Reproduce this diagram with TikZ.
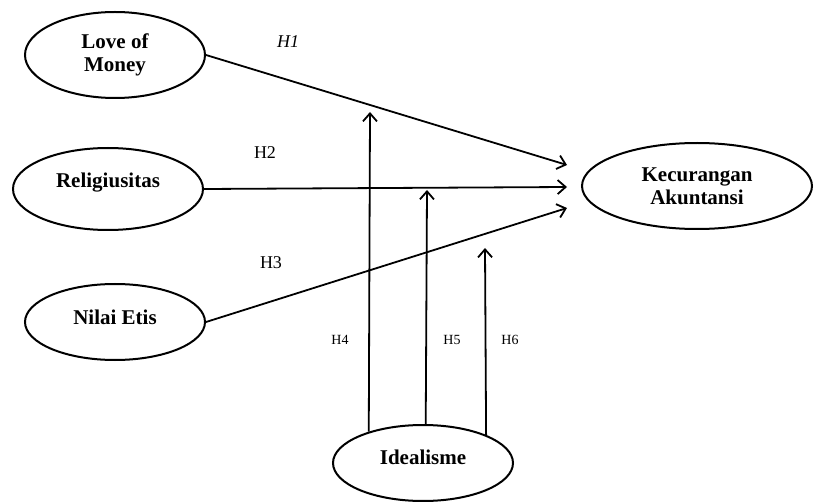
\documentclass[tikz,border=0pt]{standalone}
\usepackage{fontspec}
\setmainfont{Liberation Serif}
\usetikzlibrary{arrows.meta,shapes.geometric,calc}

\begin{document}
\begin{tikzpicture}[x=0.5pt,y=-0.5pt]
  \tikzset{construct/.style={draw,ellipse,line width=1pt,inner sep=0pt,align=center,
      font=\fontsize{10.5}{11.5}\selectfont\bfseries}}
  \tikzset{effect/.style={-{Straight Barb[length=4pt,width=7pt]},line width=0.9pt}}
  \tikzset{hyp/.style={font=\fontsize{9}{10}\selectfont}}
  \tikzset{hypsmall/.style={font=\fontsize{7}{8}\selectfont}}
  \useasboundingbox (0,0) rectangle (814,502);

  \node[construct,minimum width=90pt,minimum height=43pt] (love) at (115,55) {Love of\\Money};
  \node[construct,minimum width=95pt,minimum height=41pt,text depth=9pt] (relig) at (108,189) {Religiusitas};
  \node[construct,minimum width=90pt,minimum height=38pt,text depth=5pt] (etis) at (115,322) {Nilai Etis};
  \node[construct,minimum width=115pt,minimum height=43pt] (kec) at (697,186) {Kecurangan\\Akuntansi};
  \node[construct,minimum width=90pt,minimum height=38pt,text depth=6pt] (ideal) at (423,463) {Idealisme};

  \coordinate (in1) at ($(kec.west)+(-14,-21)$);
  \coordinate (in2) at ($(kec.west)+(-14,1)$);
  \coordinate (in3) at ($(kec.west)+(-14,22)$);
  \coordinate (mod4) at (370,112);
  \coordinate (mod5) at (427,190);
  \coordinate (mod6) at (485,248);

  \draw[effect] (love.east) -- (in1);
  \draw[effect] (relig.east) -- (in2);
  \draw[effect] (etis.east) -- (in3);

  \draw[effect] (ideal.150) -- (mod4);
  \draw[effect] (ideal.86) -- (mod5);
  \draw[effect] (ideal.24) -- (mod6);

  \node[hyp] (h1) at (288,42) {\textit{H1}};
  \node[hyp] (h2) at (265,153) {H2};
  \node[hyp] (h3) at (271,263) {H3};
  \node[hypsmall] (h4) at (340,340) {H4};
  \node[hypsmall] (h5) at (452,340) {H5};
  \node[hypsmall] (h6) at (510,340) {H6};
\end{tikzpicture}
\end{document}
